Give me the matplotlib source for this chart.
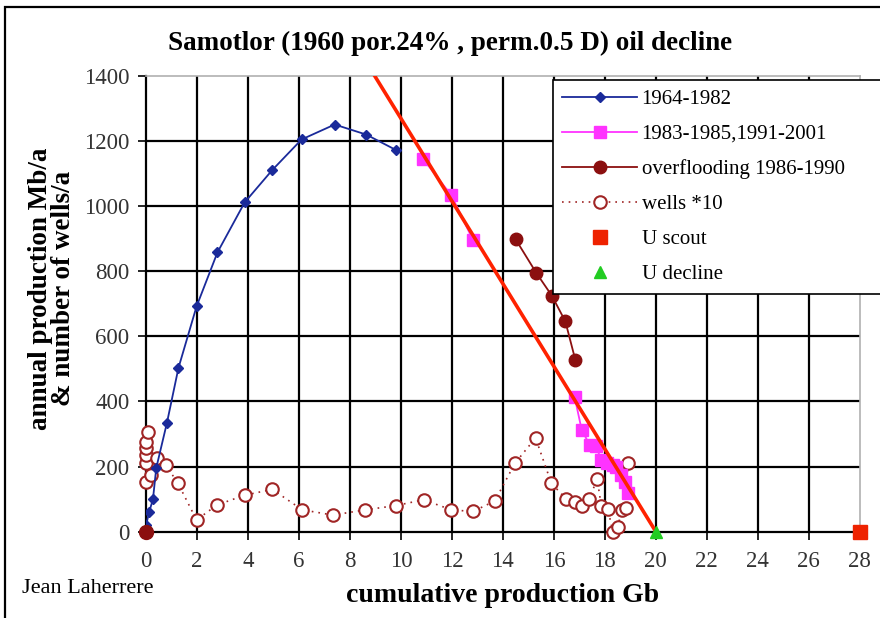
import numpy as np
import matplotlib
matplotlib.use("Agg")
from matplotlib import pyplot as plt
from matplotlib.patches import Rectangle

# 1964-1982 production (cumulative Gb, Mb/a)
early_x = [0.0, 0.12, 0.27, 0.4, 0.82, 1.27, 1.98, 2.8, 3.87, 4.95, 6.1, 7.4, 8.64, 9.82]
early_y = [20, 60, 100, 196, 335, 503, 692, 858, 1012, 1111, 1205, 1251, 1220, 1172]

# 1983-1985, 1991-2001 (gap during overflooding)
late_x = [10.86, 11.98, 12.82, np.nan, 16.81, 17.09, 17.4, 17.65, 17.86, 18.1, 18.3, 18.45, 18.65, 18.77, 18.9]
late_y = [1146, 1033, 897, np.nan, 415, 313, 267, 262, 221, 212, 204, 200, 175, 154, 118]

# overflooding 1986-1990
flood_x = [14.5, 15.31, 15.92, 16.45, 16.84]
flood_y = [898, 795, 725, 646, 528]
flood0_x = [0.0]
flood0_y = [0]

# wells *10
wells_x = [0.0, 0.0, 0.0, 0.0, 0.0, 0.08, 0.2, 0.41, 0.77, 1.25, 1.98, 2.78, 3.87, 4.95,
           6.13, 7.33, 8.6, 9.79, 10.89, 11.98, 12.82, 13.68, 14.47, 15.28, 15.9, 16.47,
           16.83, 17.11, 17.38, 17.7, 17.86, 18.12, 18.31, 18.51, 18.66, 18.84, 18.9]
wells_y = [154, 210, 236, 257, 277, 305, 174, 226, 205, 149, 36, 82, 112, 130,
           67, 51, 67, 80, 98, 67, 62, 94, 210, 288, 149, 101,
           92, 78, 101, 161, 78, 69, 0, 15, 68, 72, 211]

# decline line and ultimates
decline_x = [8.5, 20.0]
decline_y = [1460, 0]
u_scout_x = [28]
u_scout_y = [0]
u_decline_x = [20]
u_decline_y = [0]

serif = "Liberation Serif"

fig = plt.figure(figsize=(8.8, 6.18), dpi=100)
ax = fig.add_axes([0.166, 0.1397, 0.811, 0.7373])

h_wells, = ax.plot(wells_x, wells_y, color="#a02525", linestyle=(0, (1, 3)), linewidth=1.2,
                   marker="o", markersize=9, markerfacecolor="white", markeredgecolor="#a02525",
                   markeredgewidth=1.5, label="wells *10", zorder=3, clip_on=False)
h_early, = ax.plot(early_x, early_y, color="#1a2a9a", linewidth=1.3, marker="D", markersize=5,
                   label="1964-1982", zorder=4)
h_late, = ax.plot(late_x, late_y, color="#ff33ff", linewidth=1.3, marker="s", markersize=8,
                  label="1983-1985,1991-2001", zorder=4)
h_flood, = ax.plot(flood_x, flood_y, color="#8b0f0f", linewidth=1.3, marker="o", markersize=9,
                   label="overflooding 1986-1990", zorder=4)
ax.plot(flood0_x, flood0_y, color="#8b0f0f", linestyle="none", marker="o", markersize=10,
        zorder=6, clip_on=False)
ax.plot(decline_x, decline_y, color="#ff2200", linewidth=2.6, zorder=5)
h_scout, = ax.plot(u_scout_x, u_scout_y, color="#ee2200", linestyle="none", marker="s",
                   markersize=10, label="U scout", zorder=6, clip_on=False)
h_udec, = ax.plot(u_decline_x, u_decline_y, color="#22cc22", linestyle="none", marker="^",
                  markersize=8, label="U decline", zorder=6, clip_on=False)

ax.set_xlim(0, 28)
ax.set_ylim(0, 1400)
ax.set_xticks(range(0, 29, 2))
ax.set_yticks(range(0, 1401, 200))
ax.grid(True, color="black", linewidth=1.6)
ax.set_axisbelow(True)
ax.get_ygridlines()[-1].set_visible(False)
ax.get_xgridlines()[-1].set_visible(False)
ax.get_xgridlines()[0].set_visible(False)
ax.get_ygridlines()[0].set_visible(False)

for s in ["left", "bottom"]:
    ax.spines[s].set_color("black")
    ax.spines[s].set_linewidth(1.6)
for s in ["top", "right"]:
    ax.spines[s].set_color("#b0b0b0")
    ax.spines[s].set_linewidth(1.2)

ax.tick_params(direction="out", length=6, width=1.2, colors="black", labelsize=16.5,
               labelcolor="#333333")
ax.tick_params(axis="y", pad=6)
ax.tick_params(axis="x", pad=8)
for lab in ax.get_xticklabels() + ax.get_yticklabels():
    lab.set_fontfamily(serif)

ax.set_xlabel("cumulative production Gb", fontfamily=serif, fontweight="bold",
              fontsize=20, labelpad=8)
ax.set_ylabel("annual production Mb/a\n& number of wells/a", fontfamily=serif,
              fontweight="bold", fontsize=19.5, linespacing=0.9)
ax.yaxis.set_label_coords(-0.098, 0.533)

fig.text(0.511, 0.93, "Samotlor (1960 por.24% , perm.0.5 D) oil decline",
         ha="center", va="center", fontfamily=serif, fontweight="bold", fontsize=19.5)
fig.text(0.025, 0.047, "Jean Laherrere", ha="left", va="center", fontfamily=serif,
         fontsize=16)

handles = [h_early, h_late, h_flood, h_wells, h_scout, h_udec]
top = 1 - 80 / 618
leg = fig.legend(handles=handles, loc="upper left",
                 bbox_to_anchor=(553 / 880, 0.4, 0.42, top - 0.4), mode="expand",
                 prop={"family": serif, "size": 15}, handlelength=3.6,
                 frameon=True, fancybox=False, edgecolor="black", framealpha=1,
                 borderpad=0.45, labelspacing=0.74, handletextpad=0.2, borderaxespad=0)
leg.get_frame().set_linewidth(1.2)

fig.patches.append(Rectangle((5 / 880, -0.1), 1.2, 1.1 - 7 / 618, transform=fig.transFigure,
                             fill=False, edgecolor="black", linewidth=1.6))

fig.savefig("out.png", dpi=100)
